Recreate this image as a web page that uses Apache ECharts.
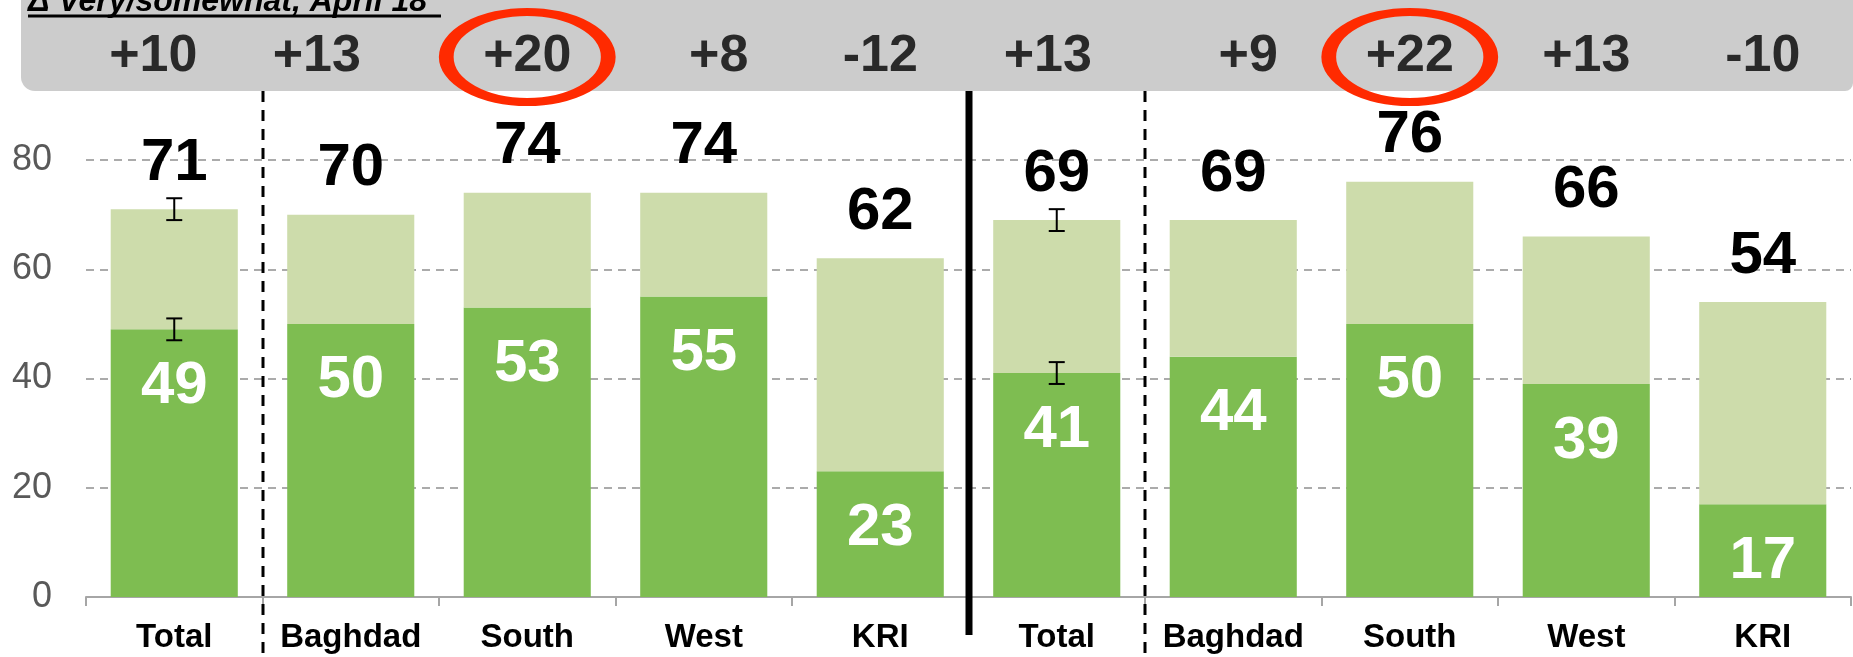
<!DOCTYPE html>
<html>
<head>
<meta charset="utf-8">
<title>Very/somewhat by region</title>
<script src="https://cdn.jsdelivr.net/npm/echarts@6/dist/echarts.min.js"></script>
<style>
html, body { margin: 0; padding: 0; background: #fff; }
#chart { width: 1853px; height: 657px; }
</style>
</head>
<body>
<div id="chart"></div>
<script>
// data
var categories = ['Total', 'Baghdad', 'South', 'West', 'KRI', 'Total', 'Baghdad', 'South', 'West', 'KRI'];
var veryValues = [49, 50, 53, 55, 23, 41, 44, 50, 39, 17];
var totalValues = [71, 70, 74, 74, 62, 69, 69, 76, 66, 54];
var deltaLabels = ['+10', '+13', '+20', '+8', '-12', '+13', '+9', '+22', '+13', '-10'];
var circledIndex = [2, 7];
var errorIndex = [0, 5];
var errorMargin = [2, 2];
var separators = [
    {after: 0, type: 'dashed'},
    {after: 4, type: 'solid'},
    {after: 5, type: 'dashed'}
];
var titleText = '\u0394 Very/somewhat, April 18';

var DARK = '#7ebd51';
var LIGHT = '#cddcab';
var SANS = '"Liberation Sans", Arial, sans-serif';
// the delta row in the source was typed by hand, a few labels sit off-centre
var deltaNudge = {0: -21, 1: -34, 3: 15, 5: -9, 6: 15};

var chart = echarts.init(document.getElementById('chart'), null, {renderer: 'canvas'});

var somewhatValues = totalValues.map(function (t, i) { return t - veryValues[i]; });

var errorData = [];
errorIndex.forEach(function (i, k) {
    errorData.push([i, veryValues[i] - errorMargin[k], veryValues[i] + errorMargin[k]]);
    errorData.push([i, totalValues[i] - errorMargin[k], totalValues[i] + errorMargin[k]]);
});

var option = {
    animation: false,
    backgroundColor: '#fff',
    grid: [
        {left: 86, right: 2, top: 160, bottom: 60},
        {left: 86, right: 2, top: 12, height: 90}
    ],
    xAxis: [
        {
            type: 'category',
            gridIndex: 0,
            data: categories,
            axisLine: {lineStyle: {color: '#a6a6a6', width: 2}},
            axisTick: {show: true, length: 9, lineStyle: {color: '#a6a6a6', width: 2}},
            axisLabel: {
                color: '#000',
                fontFamily: SANS,
                fontWeight: 'bold',
                fontSize: 33,
                margin: 24,
                interval: 0
            }
        },
        {
            type: 'category',
            gridIndex: 1,
            data: categories,
            show: false
        }
    ],
    yAxis: [
        {
            type: 'value',
            gridIndex: 0,
            min: 0,
            max: 80,
            interval: 20,
            axisLine: {show: false},
            axisTick: {show: false},
            axisLabel: {color: '#595959', fontFamily: SANS, fontSize: 36, margin: 34},
            splitLine: {lineStyle: {color: '#ababab', type: [8, 6], width: 2}}
        },
        {
            type: 'value',
            gridIndex: 1,
            min: -1,
            max: 1,
            show: false
        }
    ],
    series: [
        {
            name: 'Very',
            type: 'bar',
            stack: 'all',
            barWidth: '72%',
            data: veryValues,
            itemStyle: {color: DARK},
            label: {
                show: true,
                position: 'insideTop',
                distance: 27,
                color: '#fff',
                fontFamily: SANS,
                fontWeight: 'bold',
                fontSize: 60
            },
            z: 2
        },
        {
            name: 'Somewhat',
            type: 'bar',
            stack: 'all',
            barWidth: '72%',
            data: somewhatValues,
            itemStyle: {color: LIGHT},
            label: {
                show: true,
                position: 'top',
                distance: 16,
                color: '#000',
                fontFamily: SANS,
                fontWeight: 'bold',
                fontSize: 60,
                formatter: function (p) { return totalValues[p.dataIndex]; }
            },
            z: 2
        },
        {
            name: 'error',
            type: 'custom',
            xAxisIndex: 0,
            yAxisIndex: 0,
            data: errorData,
            z: 5,
            renderItem: function (params, api) {
                var x = api.value(0);
                var lo = api.coord([x, api.value(1)]);
                var hi = api.coord([x, api.value(2)]);
                var half = 8;
                var st = {stroke: '#000', lineWidth: 2};
                return {
                    type: 'group',
                    children: [
                        {type: 'line', shape: {x1: hi[0], y1: hi[1], x2: lo[0], y2: lo[1]}, style: st},
                        {type: 'line', shape: {x1: hi[0] - half, y1: hi[1], x2: hi[0] + half, y2: hi[1]}, style: st},
                        {type: 'line', shape: {x1: lo[0] - half, y1: lo[1], x2: lo[0] + half, y2: lo[1]}, style: st}
                    ]
                };
            }
        },
        {
            name: 'delta',
            type: 'scatter',
            xAxisIndex: 1,
            yAxisIndex: 1,
            symbolSize: 0,
            data: deltaLabels.map(function (d, i) {
                return {value: 0, label: {offset: [deltaNudge[i] || 0, 0]}};
            }),
            label: {
                show: true,
                position: 'inside',
                color: '#000',
                fontFamily: SANS,
                fontWeight: 'bold',
                fontSize: 52,
                formatter: function (p) { return deltaLabels[p.dataIndex]; }
            },
            z: 4
        },
        {
            name: 'circled',
            type: 'scatter',
            xAxisIndex: 1,
            yAxisIndex: 1,
            symbol: 'circle',
            symbolSize: [162, 90],
            data: circledIndex.map(function (i) { return [i, 0]; }),
            itemStyle: {color: 'rgba(0,0,0,0)', borderColor: '#ff2a00', borderWidth: 11, opacity: 1},
            z: 5
        }
    ],
    graphic: [
        {
            id: 'box',
            type: 'rect',
            z: 0,
            shape: {x: 21, y: -20, width: 1832, height: 111, r: [0, 0, 8, 14]},
            style: {fill: '#cccccc'}
        },
        {
            id: 'title',
            type: 'text',
            z: 10,
            x: 28,
            y: 18,
            style: {
                text: titleText,
                fill: '#000',
                font: 'italic bold 32px "Liberation Sans", Arial, sans-serif',
                verticalAlign: 'bottom'
            }
        },
        {
            id: 'titleLine',
            type: 'line',
            z: 10,
            shape: {x1: 28, y1: 16, x2: 441, y2: 16},
            style: {stroke: '#000', lineWidth: 3}
        }
    ]
};

chart.setOption(option);

// separator lines between the region groups, placed from the axis
var sepGraphics = separators.map(function (s, k) {
    var a = chart.convertToPixel({xAxisIndex: 0}, s.after);
    var b = chart.convertToPixel({xAxisIndex: 0}, s.after + 1);
    var x = Math.round((a + b) / 2);
    var solid = s.type === 'solid';
    return {
        id: 'sep' + k,
        type: 'line',
        z: 10,
        shape: {x1: x, y1: 91, x2: x, y2: solid ? 635 : 657},
        style: {
            stroke: '#000',
            lineWidth: solid ? 7 : 3,
            lineDash: solid ? null : [11, 8]
        }
    };
});
chart.setOption({graphic: sepGraphics});
</script>
</body>
</html>
